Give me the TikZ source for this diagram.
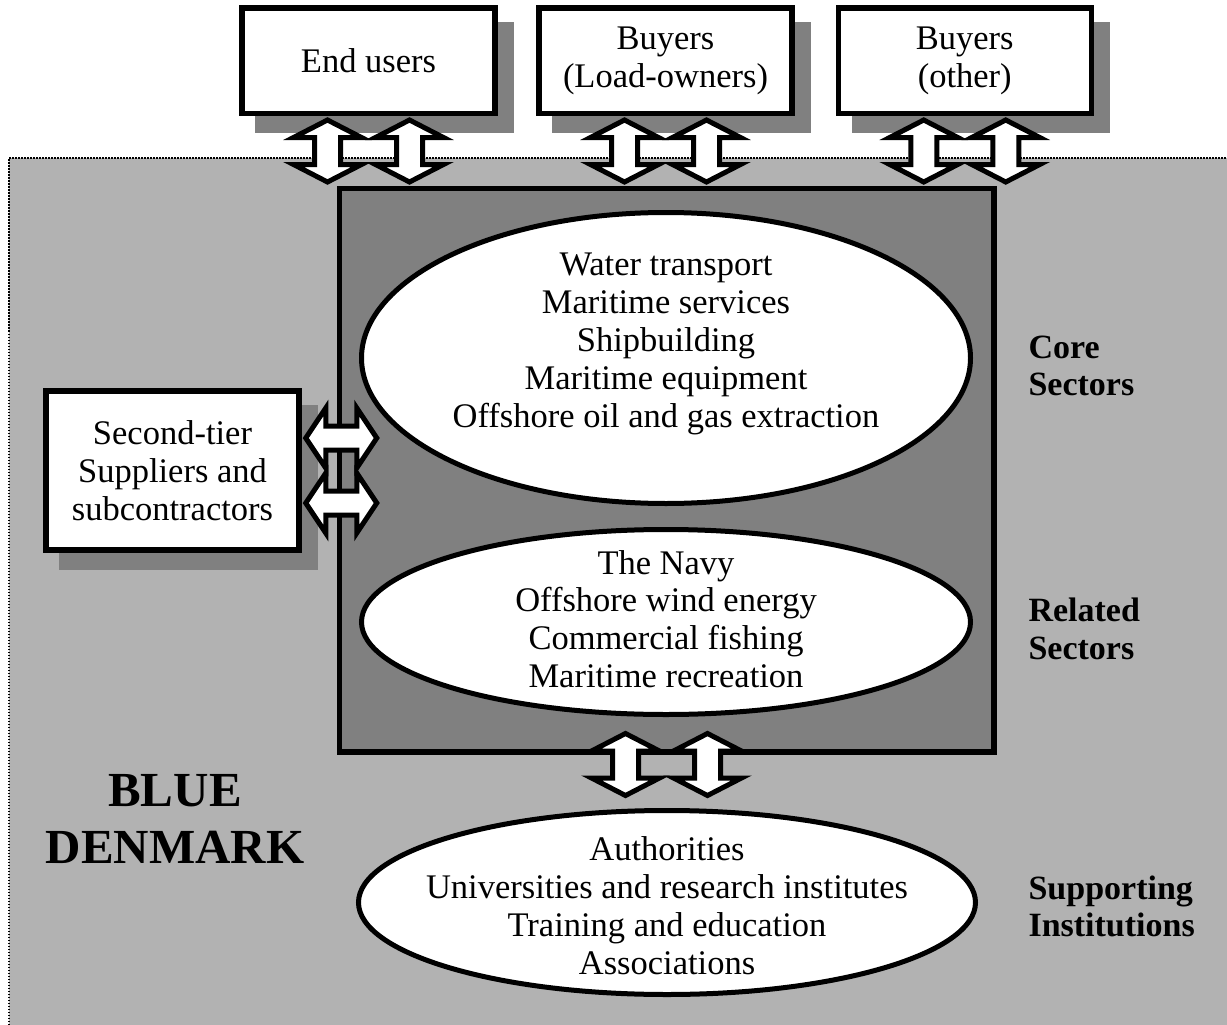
\documentclass[tikz,border=0pt]{standalone}
\usepackage{fontspec}
\setmainfont{Liberation Serif}
\usetikzlibrary{shapes.geometric,shadows,calc}

\begin{document}
\begin{tikzpicture}[x=1pt,y=1pt,yscale=-1,xscale=1,
  every node/.style={font=\fontsize{34.5}{37.8}\selectfont},
  party/.style={draw, line width=5.5pt, fill=white, minimum width=253pt, minimum height=105.5pt, align=center,
    drop shadow={shadow xshift=16pt, shadow yshift=-17pt, fill=black!50, draw=black!50, opacity=1}},
  sector/.style={ellipse, draw, line width=5pt, fill=white, inner sep=0pt},
  uplink/.pic={\draw[line width=5pt, fill=white] (0,-31) -- (34,-13.5) -- (13,-13.5) -- (13,13.5) -- (34,13.5) -- (0,31)
    -- (-34,13.5) -- (-13,13.5) -- (-13,-13.5) -- (-34,-13.5) -- cycle;},
  sidelink/.pic={\draw[line width=5pt, fill=white] (-35.5,0) -- (-15.5,-30) -- (-15.5,-12) -- (15.5,-12) -- (15.5,-30) -- (35.5,0)
    -- (15.5,30) -- (15.5,12) -- (-15.5,12) -- (-15.5,30) -- cycle;},
  tag/.style={font=\fontsize{34}{37.5}\selectfont\bfseries, align=left, anchor=west}]
\useasboundingbox (0,0) rectangle (1227,1025);

%Shape: Rectangle [cluster background]
\fill[black!30] (9,158) rectangle (1227,1025);
\draw[line width=1.5pt, dash pattern=on 1.5pt off 1.5pt] (9,1025) -- (9,158) -- (1227,158);

%Shape: Rectangle [outside parties]
\node[party] (endusers) at (368.5,60.75) {End users};
\node[party] (loadowners) at (665.5,60.75) {Buyers\\(Load-owners)};
\node[party] (otherbuyers) at (964.75,60.75) {Buyers\\(other)};
\node[party, minimum height=159pt] (suppliers) at (172.5,470.5) {Second-tier\\Suppliers and\\subcontractors};

%Shape: Rectangle [core and related box]
\node[draw, line width=5.5pt, fill=black!50, minimum width=654.5pt, minimum height=563.5pt] (cluster) at (666.75,470.25) {};

%Shape: Ellipse
\node[sector, minimum width=609pt, minimum height=291pt] (core) at (666,358) {};
%Shape: Ellipse
\node[sector, minimum width=609pt, minimum height=185pt] (related) at (666,622) {};
%Shape: Ellipse
\node[sector, minimum width=617pt, minimum height=184pt] (support) at (667,902.5) {};

% Text Node
\node[align=center] (coretext) at (666,344) {Water transport\\Maritime services\\Shipbuilding\\Maritime equipment\\Offshore oil and gas extraction};
% Text Node
\node[align=center] (relatedtext) at (666,619) {The Navy\\Offshore wind energy\\Commercial fishing\\Maritime recreation};
% Text Node
\node[align=center] (supporttext) at (667,905.5) {Authorities\\Universities and research institutes\\Training and education\\Associations};

% Text Node
\node[tag] (coretag) at (1025,366) {Core\\Sectors};
% Text Node
\node[tag] (relatedtag) at (1025,629) {Related\\Sectors};
% Text Node
\node[tag] (supporttag) at (1025,906.5) {Supporting\\Institutions};
% Text Node
\node[font=\fontsize{49}{57}\selectfont\bfseries, align=center] (title) at (175,818.5) {BLUE\\DENMARK};

%Double arrows [top]
\pic (userin) at ($(endusers.south)!.5!(endusers.south |- cluster.north)+(-41,0)$) {uplink};
\pic (userout) at ($(endusers.south)!.5!(endusers.south |- cluster.north)+(41,0)$) {uplink};
\pic (loadin) at ($(loadowners.south)!.5!(loadowners.south |- cluster.north)+(-41,0)$) {uplink};
\pic (loadout) at ($(loadowners.south)!.5!(loadowners.south |- cluster.north)+(41,0)$) {uplink};
\pic (otherin) at ($(otherbuyers.south)!.5!(otherbuyers.south |- cluster.north)+(-41,0)$) {uplink};
\pic (otherout) at ($(otherbuyers.south)!.5!(otherbuyers.south |- cluster.north)+(41,0)$) {uplink};
%Double arrows [left]
\pic (supplyin) at ($(cluster.west |- suppliers)+(4.5,-32.5)$) {sidelink};
\pic (supplyout) at ($(cluster.west |- suppliers)+(4.5,32.5)$) {sidelink};
%Double arrows [bottom]
\pic (supportin) at ($(related.south)!.5!(support.north)+(-41,2)$) {uplink};
\pic (supportout) at ($(related.south)!.5!(support.north)+(41,2)$) {uplink};
\end{tikzpicture}
\end{document}
